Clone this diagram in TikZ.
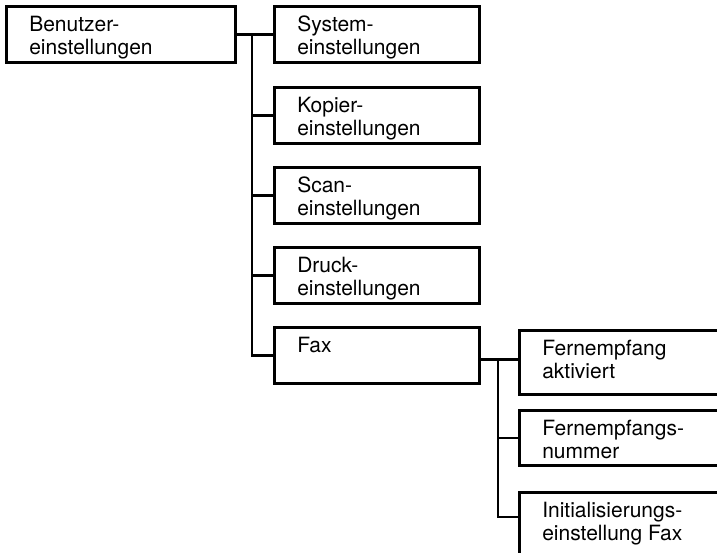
\documentclass[tikz,border=0pt]{standalone}
\usepackage{fontspec}
\setmainfont{TeX Gyre Heros}
\usetikzlibrary{calc}

% Text im Kasten: oben links ausgerichtet
\newcommand{\menutext}[3][37pt]{\parbox[t][#1][t]{#2}{\strut #3}}

\tikzset{
  menubox/.style={draw, line width=2.6pt, rectangle, anchor=north west,
    inner xsep=23pt, inner ysep=9.5pt,
    font=\fontsize{21}{23}\selectfont},
  branch/.style={line width=2.6pt}
}

\begin{document}
\begin{tikzpicture}[x=1pt,y=1pt]
  \useasboundingbox (0,0) rectangle (717,-553);
  \fill[white] (0,0) rectangle (717,-553);
  \clip (0,0) rectangle (717,-553);
  % Linke Spalte
  \node[menubox] (benutzer) at (5,-5) {\menutext{183pt}{Benutzer-\\einstellungen}};
  % Mittlere Spalte
  \node[menubox] (system) at (273,-5)   {\menutext{159pt}{System-\\einstellungen}};
  \node[menubox] (kopier) at (273,-86)  {\menutext{159pt}{Kopier-\\einstellungen}};
  \node[menubox] (scan)   at (273,-166) {\menutext{159pt}{Scan-\\einstellungen}};
  \node[menubox] (druck)  at (273,-246) {\menutext{159pt}{Druck-\\einstellungen}};
  \node[menubox] (fax)    at (273,-326) {\menutext{159pt}{Fax}};
  % Rechte Spalte (rechts abgeschnitten)
  \node[menubox] (fernakt) at (518,-329) {\menutext[45pt]{200pt}{Fernempfang\\aktiviert}};
  \node[menubox] (fernnum) at (518,-409) {\menutext[36pt]{200pt}{Fernempfangs-\\nummer}};
  \node[menubox] (initfax) at (518,-491) {\menutext[70pt]{200pt}{Initialisierungs-\\einstellung Fax}};
  % Verbindungen
  \coordinate (trunk) at (252,0);
  \coordinate (trunkfax) at (498,0);
  \coordinate (faxout) at ([yshift=-4pt]fax.east);
  \draw[branch] (benutzer.east) -- (system.west);
  \draw[branch] (trunk |- system.west) -- (trunk |- fax.west) -- (fax.west);
  \foreach \n in {kopier,scan,druck}
    \draw[branch] (trunk |- \n.west) -- (\n.west);
  \draw[branch] (faxout) -- (faxout -| fernakt.west);
  \draw[branch] (trunkfax |- faxout) |- ([yshift=-26pt]initfax.north west);
  \draw[branch] (trunkfax |- fernnum.west) -- (fernnum.west);
\end{tikzpicture}
\end{document}
